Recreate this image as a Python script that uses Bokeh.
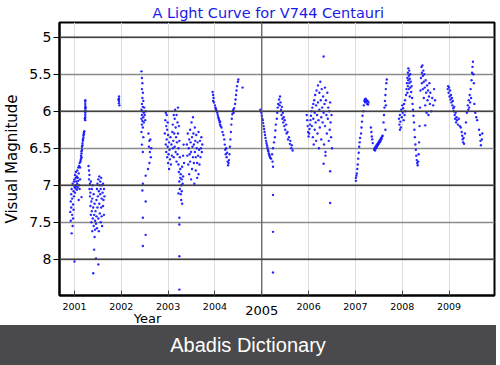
from bokeh.plotting import figure
from bokeh.models import Range1d, FixedTicker, Div, Span, CustomJSTickFormatter, LinearAxis
from bokeh.layouts import column
from bokeh.embed import file_html
from bokeh.resources import INLINE

# ---- data: (decimal year, visual magnitude) ----
season_2001a = [(2000.91,7.36),(2000.92,7.22),(2000.92,7.48),(2000.93,7.12),(2000.93,7.30),(2000.94,7.65),(2000.94,7.05),
    (2000.95,7.40),(2000.95,7.18),(2000.96,7.55),(2000.96,6.98),(2000.97,7.26),(2000.97,7.45),(2000.98,7.08),(2000.98,7.33),
    (2000.99,6.95),(2000.99,7.15),(2001.00,7.02),(2001.00,8.03),(2001.00,6.92),(2001.01,7.10),(2001.01,6.86),(2001.02,7.00),
    (2001.02,7.04),(2001.03,6.90),(2001.03,6.82),(2001.04,7.01),(2001.04,6.95),(2001.05,6.88),(2001.05,7.06),(2001.06,6.80),
    (2001.06,6.98),(2001.07,6.90),(2001.07,7.03),(2001.08,6.76),(2001.08,6.94),(2001.09,6.84),(2001.09,7.20),(2001.10,6.74),
    (2001.10,7.00),(2001.11,6.70),(2001.11,7.05),(2001.12,6.76),(2001.12,6.92),(2001.13,6.68),(2001.13,6.66),(2001.14,6.64),
    (2001.15,7.16),(2001.15,6.62),
    (2001.14,6.60),(2001.15,6.57),(2001.15,6.54),(2001.16,6.52),(2001.16,6.48),(2001.17,6.46),(2001.17,6.43),(2001.18,6.40),
    (2001.18,6.38),(2001.19,6.36),(2001.19,6.33),(2001.20,6.31),(2001.20,6.29),(2001.21,6.27),
    (2001.23,6.12),(2001.23,6.08),(2001.23,6.05),(2001.23,6.02),(2001.23,5.99),(2001.23,5.96),(2001.23,5.93),(2001.23,5.90),
    (2001.23,5.87),(2001.23,5.85),(2001.22,6.10),(2001.24,6.00),(2001.24,5.95)]

season_2001b = [(2001.30,6.74),(2001.31,6.80),(2001.31,6.92),(2001.32,7.05),(2001.32,6.86),(2001.33,7.15),(2001.33,6.98),
    (2001.34,7.28),(2001.34,7.10),(2001.35,7.40),(2001.35,6.95),(2001.36,7.22),(2001.36,7.50),(2001.37,7.05),(2001.37,7.35),
    (2001.38,7.62),(2001.38,7.18),(2001.39,7.45),(2001.39,7.00),(2001.40,8.19),(2001.40,7.30),(2001.41,7.55),(2001.41,7.12),
    (2001.42,7.87),(2001.42,7.40),(2001.43,7.70),(2001.43,7.25),(2001.44,7.60),(2001.44,7.48),(2001.46,7.99),(2001.45,7.35),
    (2001.46,7.52),(2001.47,7.20),(2001.47,7.42),(2001.48,7.05),(2001.48,7.58),(2001.49,6.98),(2001.49,7.30),(2001.51,8.07),
    (2001.50,7.15),(2001.51,6.92),(2001.51,7.45),(2001.52,7.08),(2001.52,7.62),(2001.53,6.88),(2001.53,7.25),(2001.54,7.00),
    (2001.54,7.38),(2001.55,7.12),(2001.55,6.95),(2001.56,7.50),(2001.56,7.05),(2001.57,6.90),(2001.57,7.30),(2001.58,7.18),
    (2001.58,7.42),(2001.59,7.00),(2001.59,7.55),(2001.60,7.10),(2001.61,7.28),(2001.61,6.98),(2001.62,7.20),(2001.63,7.40),
    (2001.63,7.05),(2001.64,7.15)]

season_2002a = [(2001.95,5.80),(2001.95,5.83),(2001.95,5.86),(2001.95,5.89),(2001.96,5.92),(2001.94,5.84)]

season_2002b = [(2002.43,5.46),(2002.44,5.55),(2002.45,5.62),(2002.44,5.70),(2002.46,5.75),(2002.45,5.82),(2002.47,5.86),
    (2002.44,5.90),(2002.46,5.94),(2002.43,5.98),(2002.45,6.00),(2002.48,6.02),(2002.44,6.05),(2002.47,6.08),(2002.43,6.10),
    (2002.45,6.13),(2002.48,6.15),(2002.44,6.18),(2002.46,6.22),(2002.43,6.28),(2002.50,6.05),(2002.51,6.12),(2002.49,5.95),
    (2002.52,6.00),(2002.47,6.35),(2002.44,6.45),(2002.46,6.55),(2002.58,6.30),(2002.60,6.40),(2002.59,6.48),(2002.62,6.38),
    (2002.61,6.55),(2002.63,6.62),(2002.60,6.70),(2002.64,6.50),(2002.57,6.78),(2002.52,6.87),(2002.46,6.98),(2002.45,7.07),
    (2002.52,7.22),(2002.46,7.44),(2002.52,7.67),(2002.46,7.82)]

season_2003a = [(2002.93,6.30),(2002.94,6.12),(2002.95,6.45),(2002.95,6.02),(2002.96,6.20),(2002.96,6.55),(2002.97,6.05),
    (2002.97,6.38),(2002.98,6.62),(2002.98,6.25),(2002.99,6.15),(2002.99,6.48),(2003.00,6.70),(2003.00,6.32),(2003.01,6.58),
    (2003.02,6.42),(2003.02,6.78),(2003.03,6.52),(2003.04,6.65),(2003.05,6.35),(2003.06,6.72),(2003.07,6.45),(2003.08,6.60),
    (2003.09,6.28),(2003.10,6.50),(2003.10,6.18),(2003.11,6.40),(2003.12,6.05),(2003.12,6.62),(2003.13,6.30),(2003.14,6.10),
    (2003.14,6.48),(2003.15,5.98),(2003.16,6.22),(2003.16,6.55),(2003.17,6.35),(2003.18,6.05),(2003.18,6.68),(2003.19,6.42),
    (2003.20,6.15),(2003.20,6.58),(2003.21,5.95),(2003.21,6.30),(2003.22,6.50),(2003.22,6.72),(2003.23,6.20),(2003.23,6.82),
    (2003.24,6.40),(2003.24,6.95),(2003.25,6.62),(2003.25,7.05),(2003.26,6.78),(2003.26,6.90),(2003.27,7.12),(2003.27,6.85),
    (2003.28,7.00),(2003.28,7.20),(2003.29,6.92),(2003.29,7.08),(2003.30,7.25),(2003.30,6.75),(2003.31,6.98),(2003.32,6.60),
    (2003.32,6.88),(2003.33,6.45),(2003.34,6.70),(2003.24,7.44),(2003.24,7.53),(2003.24,7.96),(2003.24,8.41),(2003.22,7.11)]

season_2003b = [(2003.40,6.45),(2003.41,6.60),(2003.42,6.30),(2003.43,6.72),(2003.44,6.50),(2003.45,6.38),(2003.45,6.85),
    (2003.46,6.58),(2003.47,6.25),(2003.47,6.68),(2003.48,6.42),(2003.49,6.92),(2003.49,6.55),(2003.50,6.15),(2003.51,6.35),
    (2003.51,6.78),(2003.52,6.48),(2003.53,6.62),(2003.53,6.08),(2003.54,6.30),(2003.55,6.70),(2003.55,6.45),(2003.56,6.98),
    (2003.57,6.55),(2003.57,6.22),(2003.58,6.40),(2003.59,6.80),(2003.59,6.62),(2003.60,6.32),(2003.61,6.50),(2003.62,6.90),
    (2003.62,6.70),(2003.63,6.42),(2003.64,6.60),(2003.65,6.28),(2003.65,6.85),(2003.66,6.52),(2003.67,6.72),(2003.68,6.40),
    (2003.69,6.62),(2003.70,6.50),(2003.71,6.35),(2003.72,6.55),(2003.73,6.45)]

season_2004 = [(2003.95,5.74),(2003.96,5.78),(2003.97,5.82),(2003.96,5.86),(2003.98,5.88),(2004.00,5.92),(2004.01,5.95),
    (2004.02,5.97),(2004.03,5.99),(2004.04,6.00),(2004.05,6.02),(2004.06,6.05),(2004.07,6.08),(2004.08,6.10),(2004.09,6.12),
    (2004.10,6.15),(2004.11,6.14),(2004.11,6.18),(2004.12,6.20),(2004.14,6.22),(2004.16,6.28),(2004.18,6.32),(2004.20,6.38),
    (2004.21,6.45),(2004.22,6.52),(2004.23,6.58),(2004.24,6.50),(2004.25,6.62),(2004.26,6.56),(2004.27,6.68),(2004.28,6.73),
    (2004.29,6.70),(2004.30,6.66),(2004.31,6.58),(2004.32,6.48),(2004.33,6.38),(2004.34,6.28),(2004.35,6.18),(2004.36,6.10),
    (2004.37,6.04),(2004.38,6.00),(2004.39,5.98),(2004.40,6.02),(2004.41,5.96),(2004.43,5.90),(2004.44,5.84),(2004.45,5.78),
    (2004.46,5.72),(2004.47,5.66),(2004.49,5.60),(2004.50,5.57),(2004.59,5.68)]

season_2005 = [(2004.97,5.98),(2004.99,6.02),(2005.00,6.06),(2005.01,6.10),(2005.02,6.12),(2005.03,6.16),(2005.04,6.20),
    (2005.05,6.24),(2005.06,6.28),(2005.07,6.32),(2005.08,6.36),(2005.09,6.40),(2005.10,6.43),(2005.11,6.46),(2005.12,6.49),
    (2005.13,6.52),(2005.14,6.54),(2005.15,6.57),(2005.16,6.59),(2005.17,6.61),(2005.18,6.63),(2005.20,6.64),(2005.22,6.58),
    (2005.24,6.50),(2005.26,6.42),(2005.28,6.35),(2005.29,6.26),(2005.30,6.18),(2005.32,6.10),(2005.33,6.02),(2005.34,5.95),
    (2005.35,5.90),(2005.37,5.84),(2005.39,5.80),(2005.38,5.92),(2005.40,5.88),(2005.41,5.98),(2005.42,6.05),(2005.43,5.94),
    (2005.44,6.10),(2005.45,6.02),(2005.46,6.15),(2005.47,6.08),(2005.48,6.20),(2005.49,6.12),(2005.50,6.25),(2005.52,6.18),
    (2005.53,6.30),(2005.55,6.28),(2005.56,6.38),(2005.58,6.35),(2005.60,6.44),(2005.61,6.40),(2005.63,6.50),(2005.64,6.46),
    (2005.66,6.53),
    (2005.23,6.68),(2005.24,6.75),(2005.24,7.13),(2005.24,7.63),(2005.24,8.18)]

season_2006 = [(2005.96,6.05),(2005.97,6.12),(2005.98,6.20),(2005.99,6.28),(2006.00,6.34),(2006.01,6.30),(2006.02,6.24),
    (2006.03,6.18),(2006.04,6.12),(2006.05,6.06),(2006.06,6.00),(2006.07,6.20),(2006.08,5.95),(2006.09,6.35),(2006.10,5.90),
    (2006.10,6.10),(2006.11,6.45),(2006.12,5.85),(2006.13,6.02),(2006.13,6.25),(2006.14,5.78),(2006.15,6.15),(2006.16,6.40),
    (2006.16,5.92),(2006.17,5.72),(2006.18,6.05),(2006.19,6.30),(2006.20,5.88),(2006.20,5.65),(2006.21,6.12),(2006.22,6.50),
    (2006.23,5.98),(2006.23,5.75),(2006.24,6.22),(2006.25,5.60),(2006.26,5.85),(2006.27,6.08),(2006.27,6.38),(2006.28,5.70),
    (2006.29,5.95),(2006.30,6.15),(2006.31,5.80),(2006.32,5.26),(2006.32,6.02),(2006.33,6.45),(2006.34,5.90),(2006.35,5.68),
    (2006.35,6.20),(2006.36,6.55),(2006.37,5.85),(2006.38,6.05),(2006.39,6.30),(2006.40,5.75),(2006.41,6.10),(2006.42,5.95),
    (2006.43,6.40),(2006.44,6.00),(2006.45,6.25),(2006.46,5.88),(2006.47,6.15),(2006.48,6.35),(2006.49,6.05),(2006.50,6.50),
    (2006.32,6.71),(2006.36,6.60),(2006.46,6.81),(2006.46,7.24)]

season_2007 = [(2007.01,6.94),(2007.01,6.90),(2007.02,6.87),(2007.03,6.84),(2007.04,6.78),(2007.05,6.72),(2007.06,6.64),
    (2007.07,6.56),(2007.08,6.48),(2007.09,6.42),(2007.10,6.36),(2007.12,6.30),(2007.13,6.22),(2007.14,6.14),(2007.15,6.06),
    (2007.17,6.00),(2007.18,5.92),(2007.19,5.86),(2007.20,5.84),(2007.21,5.88),(2007.22,5.83),(2007.23,5.87),(2007.24,5.85),
    (2007.25,5.90),(2007.26,5.86),(2007.27,5.91),(2007.28,5.88),
    (2007.33,6.22),(2007.34,6.28),(2007.35,6.34),(2007.36,6.38),(2007.37,6.43),
    (2007.40,6.52),(2007.41,6.50),(2007.42,6.53),(2007.43,6.48),(2007.44,6.50),(2007.45,6.46),(2007.46,6.48),(2007.47,6.44),
    (2007.48,6.46),(2007.49,6.42),(2007.50,6.44),(2007.51,6.40),(2007.52,6.42),(2007.53,6.38),(2007.54,6.40),(2007.55,6.36),
    (2007.56,6.37),(2007.57,6.34),(2007.58,6.33),
    (2007.60,6.15),(2007.61,6.05),(2007.62,5.95),(2007.63,5.86),(2007.64,5.78),(2007.65,5.70),(2007.66,5.62),(2007.67,5.57),
    (2007.65,5.92),(2007.64,6.25)]

season_2008 = [(2007.93,6.10),(2007.94,6.18),(2007.95,6.25),(2007.95,6.05),(2007.96,6.14),(2007.97,6.22),(2007.98,5.98),
    (2007.99,6.08),(2008.00,5.92),(2008.01,6.02),(2008.02,5.96),(2008.03,6.12),(2008.04,5.90),(2008.05,6.05),(2008.06,5.85),
    (2008.07,6.00),(2008.08,5.78),(2008.09,5.70),(2008.10,5.62),(2008.11,5.55),(2008.11,5.75),(2008.12,5.48),(2008.12,5.66),
    (2008.13,5.42),(2008.13,5.58),(2008.14,5.52),(2008.14,5.70),(2008.15,5.45),(2008.15,5.62),(2008.16,5.56),(2008.16,5.80),
    (2008.17,5.50),(2008.17,5.68),(2008.18,5.60),(2008.19,5.74),(2008.20,5.66),(2008.21,5.82),(2008.22,5.90),(2008.23,5.98),
    (2008.24,6.06),(2008.25,6.15),(2008.26,6.25),(2008.27,6.35),(2008.28,6.45),(2008.29,6.52),(2008.30,6.60),(2008.31,6.66),
    (2008.32,6.70),(2008.33,6.73),(2008.34,6.68),(2008.35,6.58),(2008.36,6.42),(2008.37,6.20),(2008.38,5.95),(2008.39,5.72),
    (2008.40,5.55),(2008.41,5.40),(2008.42,5.48),(2008.42,5.62),(2008.43,5.38),(2008.44,5.52),(2008.44,5.70),(2008.45,5.45),
    (2008.46,5.60),(2008.46,5.82),(2008.47,5.50),(2008.48,5.68),(2008.49,5.92),(2008.50,5.58),(2008.51,5.75),(2008.52,6.02),
    (2008.53,5.65),(2008.54,5.85),(2008.55,5.72),(2008.56,6.05),(2008.57,5.80),(2008.58,5.62),(2008.59,5.90),(2008.60,5.75),
    (2008.62,6.00),(2008.64,5.82),(2008.66,5.92),(2008.68,5.70),(2008.70,5.85),(2008.49,6.19)]

season_2009 = [(2008.97,5.70),(2008.98,5.66),(2008.99,5.75),(2009.00,5.68),(2009.01,5.80),(2009.02,5.72),(2009.03,5.84),
    (2009.04,5.78),(2009.05,5.88),(2009.06,5.82),(2009.07,5.92),(2009.08,5.86),(2009.09,5.96),(2009.10,6.00),(2009.11,5.94),
    (2009.12,6.05),(2009.13,6.10),(2009.14,6.02),(2009.15,6.15),(2009.16,6.08),(2009.17,6.12),(2009.19,6.18),(2009.21,6.10),
    (2009.23,6.20),(2009.25,6.22),(2009.27,6.28),(2009.28,6.33),(2009.29,6.38),(2009.30,6.42),(2009.31,6.36),(2009.32,6.44),
    (2009.34,6.30),(2009.36,6.15),(2009.38,6.02),(2009.40,5.92),(2009.41,5.98),(2009.42,5.85),(2009.43,5.95),(2009.44,5.78),
    (2009.45,5.88),(2009.46,5.70),(2009.47,5.82),(2009.48,5.58),(2009.49,5.48),(2009.50,5.40),(2009.51,5.33),(2009.52,5.50),
    (2009.53,5.62),(2009.54,5.90),(2009.56,6.02),(2009.58,6.08),(2009.60,6.12),(2009.64,6.25),(2009.66,6.32),(2009.67,6.40),
    (2009.68,6.46),(2009.70,6.38),(2009.71,6.30)]

seasons = [season_2001a, season_2001b, season_2002a, season_2002b, season_2003a, season_2003b,
           season_2004, season_2005, season_2006, season_2007, season_2008, season_2009]

year_ticks = [2001, 2002, 2003, 2004, 2005, 2006, 2007, 2008, 2009]
big_year = 2005
year_label_at = 2002.56
mag_ticks = [5, 5.5, 6, 6.5, 7, 7.5, 8]
mag_major = [5, 6, 7, 8]

years = [t for s in seasons for (t, m) in s]
mags = [m for s in seasons for (t, m) in s]

# ---- figure ----
p = figure(width=496, height=328, output_backend="svg", toolbar_location=None,
           x_range=Range1d(2000.68, 2009.97), y_range=Range1d(8.49, 4.80),
           min_border_left=54, min_border_right=2, min_border_top=0, min_border_bottom=0)
p.background_fill_color = "white"
p.border_fill_color = "white"
p.outline_line_color = "black"
p.outline_line_width = 2

# title
p.title.text = "A Light Curve for V744 Centauri"
p.title.align = "left"
p.title.offset = 93
p.title.text_font = "DejaVu Sans"
p.title.text_font_size = "14.5px"
p.title.text_font_style = "normal"
p.title.text_color = "#1a1ae6"
p.title.standoff = 4

# x axis: small year labels
p.xaxis.ticker = FixedTicker(ticks=year_ticks, minor_ticks=[])
p.xaxis.formatter = CustomJSTickFormatter(code="return tick == %d ? '' : String(tick);" % big_year)
p.xaxis.major_label_text_font_size = "9.5px"
p.xaxis.major_label_text_font = "DejaVu Sans"
p.xaxis.major_label_text_color = "black"
p.xaxis.major_label_standoff = 7
p.xaxis.major_tick_in = 5
p.xaxis.major_tick_out = 0
p.xaxis.axis_line_width = 2
p.xaxis.major_tick_line_color = "#444444"

# second x axis: the large "2005" label
ax2 = LinearAxis(ticker=FixedTicker(ticks=[big_year], minor_ticks=[]),
                 formatter=CustomJSTickFormatter(code="return String(tick);"))
ax2.axis_line_color = None
ax2.major_tick_line_color = None
ax2.major_tick_in = 0
ax2.major_tick_out = 0
ax2.major_label_standoff = -7
ax2.major_label_text_font = "DejaVu Sans"
ax2.major_label_text_font_size = "13px"
ax2.major_label_text_color = "black"
p.add_layout(ax2, "below")

# third x axis: the "Year" caption under 2003
ax3 = LinearAxis(ticker=FixedTicker(ticks=[year_label_at], minor_ticks=[]),
                 formatter=CustomJSTickFormatter(code="return 'Year';"))
ax3.axis_line_color = None
ax3.major_tick_line_color = None
ax3.major_tick_in = 0
ax3.major_tick_out = 0
ax3.major_label_standoff = -7
ax3.major_label_text_font = "DejaVu Sans"
ax3.major_label_text_font_size = "13px"
ax3.major_label_text_color = "black"
p.add_layout(ax3, "below")

# y axis
p.yaxis.ticker = FixedTicker(ticks=mag_ticks, minor_ticks=[])
p.yaxis.formatter = CustomJSTickFormatter(code="return String(tick);")
p.yaxis.major_label_text_font_size = "14px"
p.yaxis.major_label_text_font = "DejaVu Sans"
p.yaxis.major_label_text_color = "black"
p.yaxis.major_label_standoff = 2
p.yaxis.major_tick_in = 0
p.yaxis.major_tick_out = 6
p.yaxis.axis_line_width = 2
p.yaxis.axis_label = "Visual Magnitude"
p.yaxis.axis_label_standoff = 5
p.yaxis.axis_label_text_font = "DejaVu Sans"
p.yaxis.axis_label_text_font_size = "15px"
p.yaxis.axis_label_text_font_style = "normal"
p.yaxis.axis_label_text_color = "black"

# grids
p.xgrid.grid_line_color = "#dddddd"
p.xgrid.grid_line_width = 1
p.ygrid.grid_line_color = "#8a8a8a"
p.ygrid.grid_line_width = 1.3
for m in mag_major:
    p.add_layout(Span(location=m, dimension="width", line_color="#444444", line_width=1.6))
p.add_layout(Span(location=big_year, dimension="height", line_color="#555555", line_width=1.2))

# data points
p.scatter(years, mags, marker="circle", size=2.4, fill_color="#1010ff", line_color=None, fill_alpha=0.9)

banner = Div(text="Abadis Dictionary", width=496, height=40, margin=(-3, 0, 0, 0),
             styles={"background-color": "#4a494b", "color": "white", "font-size": "20px",
                     "font-family": "Liberation Sans, Arial, sans-serif", "text-align": "center",
                     "line-height": "40px"})

layout = column(p, banner, spacing=0)
open("out.html", "w").write(file_html(layout, INLINE))
